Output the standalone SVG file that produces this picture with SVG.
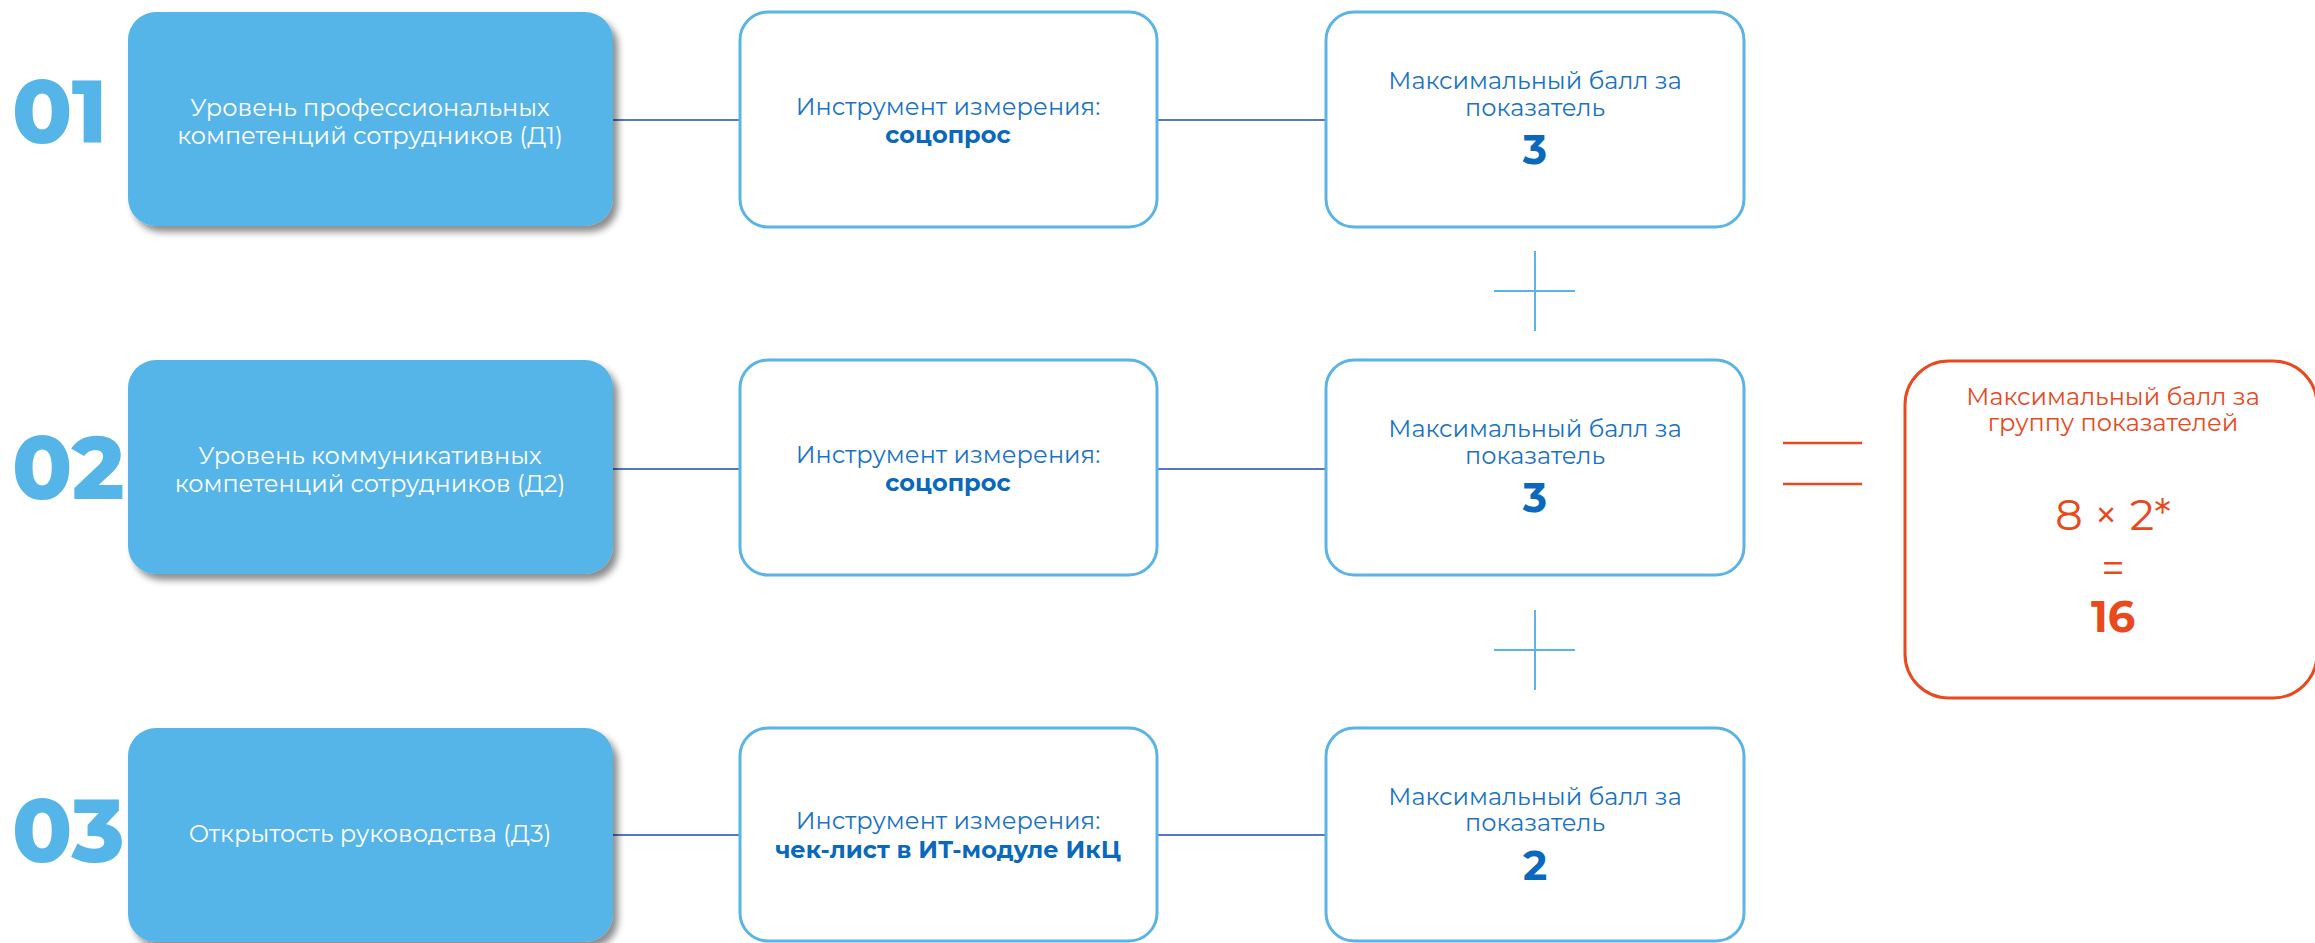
<svg xmlns="http://www.w3.org/2000/svg" width="2315" height="943" viewBox="0 0 2315 943">
<defs>
<filter id="sh" x="-10%" y="-10%" width="125%" height="130%">
<feDropShadow dx="5" dy="6" stdDeviation="3.5" flood-color="#000" flood-opacity="0.45"/>
</filter>
<style>
.num{font-family:"Montserrat","Open Sans",sans-serif;font-weight:800;font-size:88px;fill:#56b5e8}
.blue{fill:#56b5e8;filter:url(#sh)}
.wbox{fill:#fff;stroke:#5ab4e6;stroke-width:3}
.t{font-family:"Montserrat","Open Sans",sans-serif;font-weight:400;font-size:24px;text-anchor:middle}
.tw{fill:#fff}
.tb{fill:#1a73c4}
.b{font-weight:700;fill:#0a68bd}
.big{font-family:"Montserrat","Open Sans",sans-serif;font-weight:700;font-size:41px;fill:#0a68bd;text-anchor:middle}
.conn{stroke:#5577c4;stroke-width:2}
.plus{stroke:#5ab4e6;stroke-width:2}
.red{fill:#e8491d}
.rbig{font-family:"Montserrat","Open Sans",sans-serif;font-size:43px;text-anchor:middle;fill:#e8491d}
.redl{stroke:#e8491d;stroke-width:2.5}
</style>
</defs>
<g id="connectors">
<line class="conn" x1="613" y1="120" x2="740" y2="120"/>
<line class="conn" x1="1157" y1="120" x2="1326" y2="120"/>
<line class="conn" x1="613" y1="469" x2="740" y2="469"/>
<line class="conn" x1="1157" y1="469" x2="1326" y2="469"/>
<line class="conn" x1="613" y1="835" x2="740" y2="835"/>
<line class="conn" x1="1157" y1="835" x2="1326" y2="835"/>
</g>
<g id="plus1">
<line class="plus" x1="1535" y1="251" x2="1535" y2="331"/>
<line class="plus" x1="1494" y1="291" x2="1575" y2="291"/>
</g>
<g id="plus2">
<line class="plus" x1="1535" y1="610" x2="1535" y2="690"/>
<line class="plus" x1="1494" y1="650" x2="1575" y2="650"/>
</g>
<g id="equals">
<line class="redl" x1="1783" y1="443" x2="1862" y2="443"/>
<line class="redl" x1="1783" y1="484" x2="1862" y2="484"/>
</g>

<g id="row1-num"><text class="num" x="12" y="143">01</text></g>
<g id="row1-indicator">
<rect class="blue" x="128" y="12" width="485" height="214" rx="28"/>
<text class="t tw" x="370" y="116">Уровень профессиональных</text>
<text class="t tw" x="370" y="144">компетенций сотрудников (Д1)</text>
</g>
<g id="row1-tool">
<rect class="wbox" x="740" y="12" width="417" height="215" rx="28"/>
<text class="t tb" x="948" y="115">Инструмент измерения:</text>
<text class="t b" x="948" y="143">соцопрос</text>
</g>
<g id="row1-score">
<rect class="wbox" x="1326" y="12" width="418" height="215" rx="28"/>
<text class="t tb" x="1535" y="89">Максимальный балл за</text>
<text class="t tb" x="1535" y="116">показатель</text>
<text class="big" x="1535" y="164">3</text>
</g>

<g id="row2-num"><text class="num" x="12" y="499">02</text></g>
<g id="row2-indicator">
<rect class="blue" x="128" y="360" width="485" height="214" rx="28"/>
<text class="t tw" x="370" y="464">Уровень коммуникативных</text>
<text class="t tw" x="370" y="492">компетенций сотрудников (Д2)</text>
</g>
<g id="row2-tool">
<rect class="wbox" x="740" y="360" width="417" height="215" rx="28"/>
<text class="t tb" x="948" y="463">Инструмент измерения:</text>
<text class="t b" x="948" y="491">соцопрос</text>
</g>
<g id="row2-score">
<rect class="wbox" x="1326" y="360" width="418" height="215" rx="28"/>
<text class="t tb" x="1535" y="437">Максимальный балл за</text>
<text class="t tb" x="1535" y="464">показатель</text>
<text class="big" x="1535" y="512">3</text>
</g>

<g id="row3-num"><text class="num" x="12" y="862">03</text></g>
<g id="row3-indicator">
<rect class="blue" x="128" y="728" width="485" height="214" rx="28"/>
<text class="t tw" x="370" y="842">Открытость руководства (Д3)</text>
</g>
<g id="row3-tool">
<rect class="wbox" x="740" y="728" width="417" height="213" rx="28"/>
<text class="t tb" x="948" y="829">Инструмент измерения:</text>
<text class="t b" x="948" y="858">чек-лист в ИТ-модуле ИкЦ</text>
</g>
<g id="row3-score">
<rect class="wbox" x="1326" y="728" width="418" height="213" rx="28"/>
<text class="t tb" x="1535" y="805">Максимальный балл за</text>
<text class="t tb" x="1535" y="831">показатель</text>
<text class="big" x="1535" y="880">2</text>
</g>

<g id="total">
<rect x="1905" y="361" width="412" height="337" rx="44" fill="#fff" stroke="#e8491d" stroke-width="3"/>
<text class="t red" x="2113" y="405">Максимальный балл за</text>
<text class="t red" x="2113" y="431">группу показателей</text>
<text class="rbig" x="2113" y="530" font-weight="400">8 × 2*<tspan x="2113" y="583" font-size="41">=</tspan><tspan x="2113" y="632" font-weight="700">16</tspan></text>
</g>
</svg>
